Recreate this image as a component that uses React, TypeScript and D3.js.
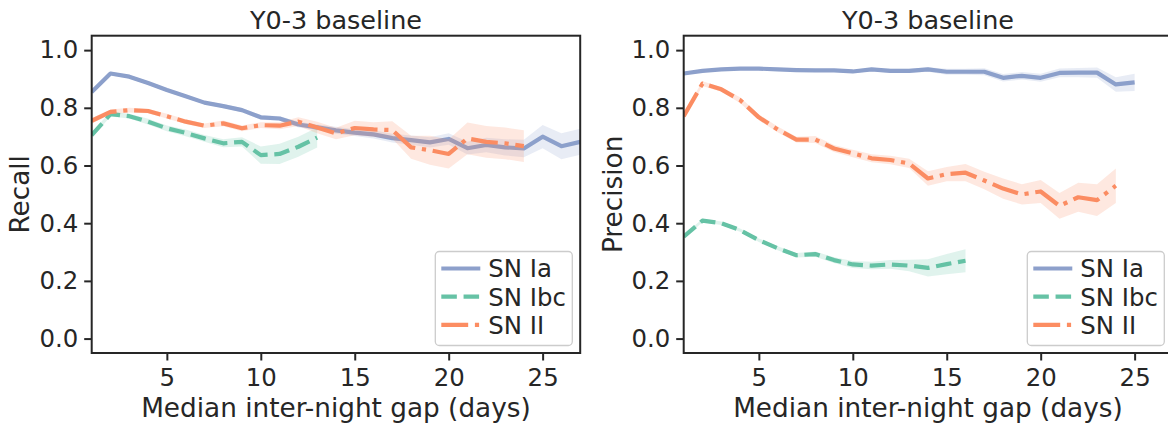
import React, { useEffect, useRef } from 'react';
import * as d3 from 'd3';

// median inter-night gap (days)
const days = [1, 2, 3, 4, 5, 6, 7, 8, 9, 10, 11, 12, 13, 14, 15, 16, 17, 18, 19, 20, 21, 22, 23, 24, 25, 26, 27];

// recall, left panel
const recallIa = [0.855, 0.919, 0.908, 0.886, 0.862, 0.84, 0.818, 0.806, 0.792, 0.767, 0.763, 0.742, 0.732, 0.722, 0.714, 0.708, 0.695, 0.688, 0.68, 0.692, 0.66, 0.671, 0.663, 0.659, 0.7, 0.667, 0.682];
const recallIaErr = [0.008, 0.006, 0.006, 0.006, 0.006, 0.006, 0.006, 0.007, 0.007, 0.008, 0.008, 0.01, 0.01, 0.012, 0.012, 0.014, 0.015, 0.016, 0.018, 0.02, 0.022, 0.025, 0.028, 0.03, 0.04, 0.045, 0.045];
const recallIbc = [0.705, 0.778, 0.771, 0.752, 0.729, 0.713, 0.694, 0.677, 0.682, 0.636, 0.64, 0.665, 0.697];
const recallIbcErr = [0.01, 0.008, 0.008, 0.01, 0.01, 0.012, 0.012, 0.014, 0.016, 0.03, 0.035, 0.035, 0.035];
const recallII = [0.755, 0.786, 0.792, 0.789, 0.771, 0.752, 0.738, 0.746, 0.729, 0.74, 0.738, 0.752, 0.732, 0.711, 0.73, 0.725, 0.723, 0.663, 0.653, 0.64, 0.694, 0.682, 0.677, 0.667];
const recallIIErr = [0.01, 0.008, 0.008, 0.008, 0.008, 0.008, 0.008, 0.01, 0.01, 0.01, 0.012, 0.015, 0.02, 0.02, 0.025, 0.025, 0.03, 0.04, 0.05, 0.05, 0.055, 0.055, 0.055, 0.055];

// precision, right panel
const precIa = [0.919, 0.928, 0.933, 0.936, 0.936, 0.933, 0.931, 0.93, 0.93, 0.926, 0.933, 0.928, 0.928, 0.933, 0.925, 0.925, 0.925, 0.904, 0.911, 0.904, 0.921, 0.922, 0.922, 0.881, 0.888];
const precIaErr = [0.004, 0.004, 0.004, 0.004, 0.004, 0.004, 0.004, 0.005, 0.005, 0.005, 0.006, 0.007, 0.007, 0.008, 0.01, 0.01, 0.012, 0.013, 0.013, 0.014, 0.015, 0.016, 0.018, 0.025, 0.03];
const precIbc = [0.353, 0.409, 0.4, 0.376, 0.341, 0.313, 0.289, 0.293, 0.272, 0.257, 0.253, 0.257, 0.253, 0.245, 0.258, 0.27];
const precIbcErr = [0.006, 0.006, 0.006, 0.006, 0.006, 0.007, 0.008, 0.009, 0.01, 0.012, 0.013, 0.015, 0.02, 0.03, 0.035, 0.04];
const precII = [0.771, 0.884, 0.864, 0.827, 0.767, 0.725, 0.69, 0.69, 0.659, 0.642, 0.625, 0.619, 0.607, 0.555, 0.57, 0.575, 0.548, 0.52, 0.5, 0.51, 0.46, 0.49, 0.48, 0.53];
const precIIErr = [0.01, 0.008, 0.008, 0.01, 0.01, 0.01, 0.01, 0.012, 0.012, 0.013, 0.014, 0.015, 0.016, 0.025, 0.025, 0.03, 0.03, 0.035, 0.035, 0.04, 0.045, 0.05, 0.055, 0.06];

const labels = ['SN Ia', 'SN Ibc', 'SN II'];
const xTicks = [5, 10, 15, 20, 25];
const yTicks = [0, 0.2, 0.4, 0.6, 0.8, 1.0];

const colors = ['#8da0cb', '#66c2a5', '#fc8d62'];
const LW = 4.2;
const dashes = ['none', `${3.7 * LW} ${1.6 * LW}`, `${6.4 * LW} ${1.6 * LW} ${1 * LW} ${1.6 * LW}`];
const FONT = '"DejaVu Sans", sans-serif';
const INK = '#262626';

const panels = [
  { left: 91.7, ylabel: 'Recall', ylabelX: 28.5, series: [[recallIa, recallIaErr], [recallIbc, recallIbcErr], [recallII, recallIIErr]] },
  { left: 683.7, ylabel: 'Precision', ylabelX: 622, series: [[precIa, precIaErr], [precIbc, precIbcErr], [precII, precIIErr]] },
];

const App = () => {
  const ref = useRef<SVGSVGElement>(null);

  useEffect(() => {
    const svg = d3.select(ref.current);
    svg.selectAll('*').remove();

    const width = 1168, height = 425;
    const top = 35.7, bottom = 353, pw = 488.5;
    svg.attr('width', width).attr('height', height);

    const y = d3.scaleLinear().domain([-0.05, 1.05]).range([bottom, top]);

    panels.forEach((p, pi) => {
      const right = p.left + pw;
      const x = d3.scaleLinear().domain([1, 27]).range([p.left, right]);
      const g = svg.append('g');

      const clipId = `clip-${pi}`;
      g.append('clipPath').attr('id', clipId)
        .append('rect').attr('x', p.left).attr('y', top).attr('width', pw).attr('height', bottom - top);

      const plot = g.append('g').attr('clip-path', `url(#${clipId})`);

      // seaborn order: line then its CI band, per hue
      p.series.forEach(([vals, errs], si) => {
        const pts = vals.map((v, i) => ({ d: days[i], v, e: errs[i] }));
        plot.append('path').datum(pts)
          .attr('d', d3.line<any>().x(d => x(d.d)).y(d => y(d.v)))
          .attr('fill', 'none')
          .attr('stroke', colors[si])
          .attr('stroke-width', LW)
          .attr('stroke-dasharray', dashes[si])
          .attr('stroke-linejoin', 'round');
        plot.append('path').datum(pts)
          .attr('d', d3.area<any>().x(d => x(d.d)).y0(d => y(d.v - d.e)).y1(d => y(d.v + d.e)))
          .attr('fill', colors[si])
          .attr('fill-opacity', 0.2);
      });

      // axes
      const xa = g.append('g').attr('transform', `translate(0,${bottom})`)
        .call(d3.axisBottom(x).tickValues(xTicks).tickSize(7.5).tickPadding(8).tickFormat(d3.format('d')));
      const ya = g.append('g').attr('transform', `translate(${p.left},0)`)
        .call(d3.axisLeft(y).tickValues(yTicks).tickSize(7.5).tickPadding(6).tickFormat(d3.format('.1f')));
      [xa, ya].forEach(a => {
        a.select('.domain').remove();
        a.attr('font-family', FONT).attr('font-size', 24.4);
        a.selectAll('line').attr('stroke', INK).attr('stroke-width', 2);
        a.selectAll('text').attr('fill', INK);
      });

      g.append('rect')
        .attr('x', p.left).attr('y', top).attr('width', pw).attr('height', bottom - top)
        .attr('fill', 'none').attr('stroke', INK).attr('stroke-width', 2);

      // labels
      g.append('text')
        .attr('x', (p.left + right) / 2).attr('y', 29)
        .attr('text-anchor', 'middle').attr('font-family', FONT).attr('font-size', 25.5).attr('fill', INK)
        .text('Y0-3 baseline');
      g.append('text')
        .attr('x', (p.left + right) / 2).attr('y', 417)
        .attr('text-anchor', 'middle').attr('font-family', FONT).attr('font-size', 26.3).attr('fill', INK)
        .text('Median inter-night gap (days)');
      g.append('text')
        .attr('transform', `translate(${p.ylabelX},${(top + bottom) / 2}) rotate(-90)`)
        .attr('text-anchor', 'middle').attr('font-family', FONT).attr('font-size', 26.3).attr('fill', INK)
        .text(p.ylabel);

      // legend
      const lw = 137, lh = 94;
      const lx = right - 7.9 - lw, ly = bottom - 7.5 - lh;
      const leg = g.append('g');
      leg.append('rect')
        .attr('x', lx).attr('y', ly).attr('width', lw).attr('height', lh).attr('rx', 4)
        .attr('fill', 'white').attr('fill-opacity', 0.8)
        .attr('stroke', '#cccccc').attr('stroke-width', 1.3);
      labels.forEach((lab, i) => {
        const ry = ly + 17 + i * 28.2;
        leg.append('line')
          .attr('x1', lx + 6).attr('x2', lx + 45).attr('y1', ry).attr('y2', ry)
          .attr('stroke', colors[i]).attr('stroke-width', LW).attr('stroke-dasharray', dashes[i]);
        leg.append('text')
          .attr('x', lx + 53).attr('y', ry + 8.8)
          .attr('font-family', FONT).attr('font-size', 24.4).attr('fill', INK)
          .text(lab);
      });
    });
  }, []);

  return (
    <div style={{ position: 'absolute', left: 0, top: 0 }}>
      <svg ref={ref}></svg>
    </div>
  );
};

export default App;
